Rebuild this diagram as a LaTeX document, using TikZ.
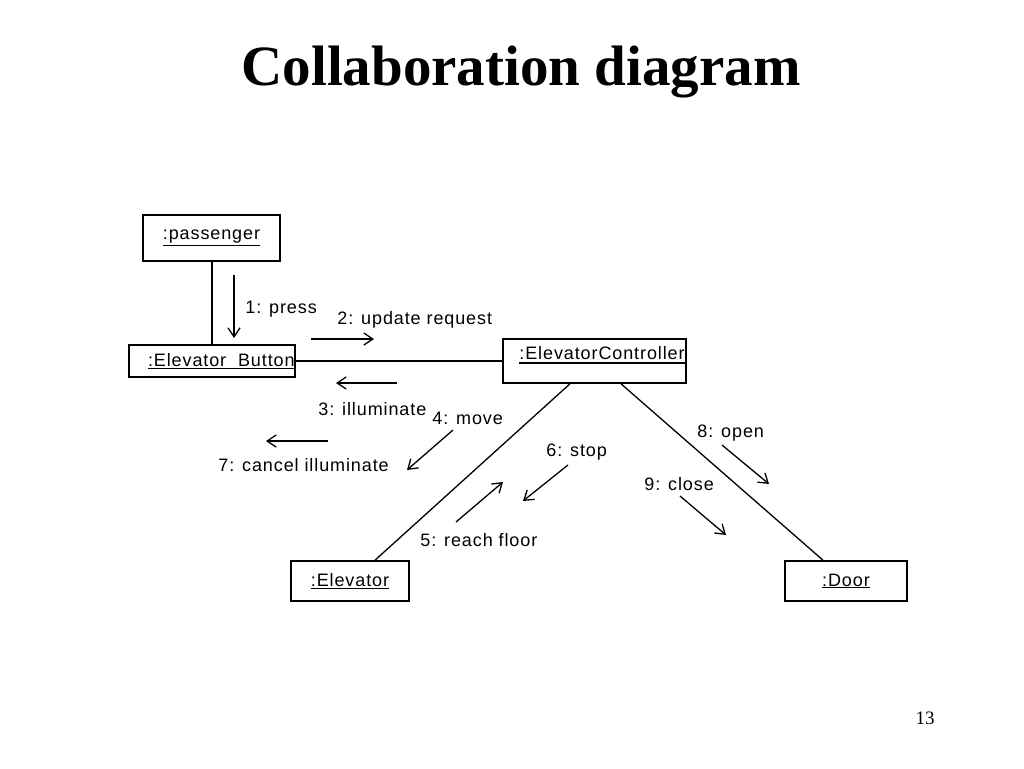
\documentclass[tikz,border=0pt]{standalone}
\usepackage{fontspec}
\setmainfont{Liberation Serif}
\newfontfamily\umlfont[LetterSpace=5]{Liberation Sans}
\usetikzlibrary{arrows.meta}

\begin{document}
\begin{tikzpicture}[x=1pt, y=-1pt, thick,
        obj/.style = {draw, line width=1.6pt, inner sep=0},
        txt/.style = {font=\umlfont\fontsize{18}{18}\selectfont, inner sep=0},
        msg/.style = {line width=1.3pt, -{Straight Barb[length=9pt,width=12pt]}},
        link/.style = {line width=1.3pt}]
        \useasboundingbox (0,0) rectangle (1024,768);
        \node[font=\bfseries\fontsize{57}{57}\selectfont] (title) at (521,72) {Collaboration diagram};
        \node[font=\fontsize{19}{19}\selectfont] (page) at (925,718) {13};
        %% Objects
        \node[obj, minimum width=137pt, minimum height=46pt] (pass) at (211.5,238) {};
        \node[txt] at (pass) {\underline{:passenger}};
        \node[obj, minimum width=166pt, minimum height=32pt] (btn) at (212,361) {};
        \node[txt, anchor=east] at (295,361) {\underline{:Elevator\ \ Button}};
        \node[obj, minimum width=183pt, minimum height=44pt] (ctrl) at (594.5,361) {};
        \node[txt, anchor=west] (ctrlname) at (519,353) {:ElevatorController};
        \node[obj, minimum width=118pt, minimum height=40pt] (elev) at (350,581) {};
        \node[txt] at (elev) {\underline{:Elevator}};
        \node[obj, minimum width=122pt, minimum height=40pt] (door) at (846,581) {};
        \node[txt] at (door) {\underline{:Door}};
        \draw[line width=1.2pt] ([yshift=-3pt]ctrlname.south west) -- ([yshift=-3pt]ctrl.east |- ctrlname.south);
        %% Links
        \draw[link] (pass.south -| 212,0) -- (btn.north -| 212,0);
        \draw[link] (btn.east) -- (ctrl.west |- btn.east);
        \draw[link] (ctrl.south -| 570,0) -- (elev.north -| 375,0);
        \draw[link] (ctrl.south -| 621,0) -- (door.north -| 823,0);
        %% Messages
        \coordinate (m1a) at (234,275); \coordinate (m1b) at (234,338);
        \coordinate (m2a) at (311,339); \coordinate (m2b) at (374,339);
        \coordinate (m3a) at (397,383); \coordinate (m3b) at (336,383);
        \coordinate (m4a) at (453,430); \coordinate (m4b) at (407,470);
        \coordinate (m5a) at (456,522); \coordinate (m5b) at (503,482);
        \coordinate (m6a) at (568,465); \coordinate (m6b) at (523,501);
        \coordinate (m7a) at (328,441); \coordinate (m7b) at (266,441);
        \coordinate (m8a) at (722,445); \coordinate (m8b) at (769,484);
        \coordinate (m9a) at (680,496); \coordinate (m9b) at (726,535);
        \draw[msg] (m1a) -- (m1b);
        \draw[msg] (m2a) -- (m2b);
        \draw[msg] (m3a) -- (m3b);
        \draw[msg] (m4a) -- (m4b);
        \draw[msg] (m5a) -- (m5b);
        \draw[msg] (m6a) -- (m6b);
        \draw[msg] (m7a) -- (m7b);
        \draw[msg] (m8a) -- (m8b);
        \draw[msg] (m9a) -- (m9b);
        %% Labels
        \node[txt, anchor=west] (l1) at (245,309) {1: press};
        \node[txt, anchor=west] (l2) at (337,320) {2: update request};
        \node[txt, anchor=west] (l3) at (318,409) {3: illuminate};
        \node[txt, anchor=west] (l4) at (432,418) {4: move};
        \node[txt, anchor=west] (l5) at (420,540) {5: reach floor};
        \node[txt, anchor=west] (l6) at (546,452) {6: stop};
        \node[txt, anchor=west] (l7) at (218,465) {7: cancel illuminate};
        \node[txt, anchor=west] (l8) at (697,433) {8: open};
        \node[txt, anchor=west] (l9) at (644,484) {9: close};
    \end{tikzpicture}
\end{document}
